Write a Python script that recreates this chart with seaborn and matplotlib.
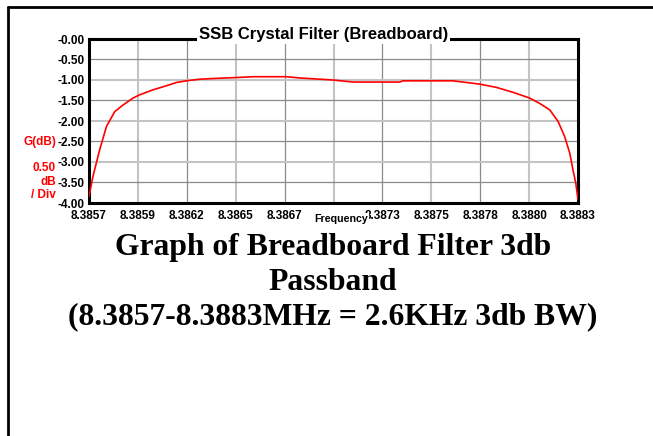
import matplotlib
matplotlib.use("Agg")
import matplotlib.pyplot as plt
from matplotlib.lines import Line2D
import numpy as np
import pandas as pd
import seaborn as sns

# frequency (MHz) and gain (dB)
freq_mhz = [
    8.385700, 8.385721, 8.385757, 8.385793, 8.385837, 8.385881, 8.385934,
    8.385970, 8.386040, 8.386112, 8.386165, 8.386218, 8.386289, 8.386377,
    8.386484, 8.386572, 8.386750, 8.386820, 8.386927, 8.386997, 8.387104,
    8.387352, 8.387370, 8.387635, 8.387777, 8.387866, 8.387954, 8.388043,
    8.388096, 8.388150, 8.388194, 8.388229, 8.388256, 8.388273, 8.388288,
    8.388300,
]
gain_db = [
    -3.84, -3.35, -2.70, -2.13, -1.77, -1.61, -1.44,
    -1.36, -1.24, -1.14, -1.06, -1.02, -0.98, -0.96,
    -0.94, -0.92, -0.92, -0.95, -0.98, -1.00, -1.05,
    -1.05, -1.02, -1.02, -1.10, -1.18, -1.30, -1.44,
    -1.57, -1.73, -2.01, -2.38, -2.78, -3.19, -3.51,
    -3.92,
]

x_tick_labels = ["8.3857", "8.3859", "8.3862", "8.3865", "8.3867", "",
                 "8.3873", "8.3875", "8.3878", "8.3880", "8.3883"]
y_tick_values = [0.0, -0.5, -1.0, -1.5, -2.0, -2.5, -3.0, -3.5, -4.0]
y_tick_labels = ["-0.00", "-0.50", "-1.00", "-1.50", "-2.00",
                 "-2.50", "-3.00", "-3.50", "-4.00"]
caption_lines = ["Graph of Breadboard Filter 3db", "Passband",
                 "(8.3857-8.3883MHz = 2.6KHz 3db BW)"]

X_MIN, X_MAX = 8.3857, 8.3883

sns.set_style("white")
plt.rcParams["font.family"] = ["Liberation Sans", "DejaVu Sans"]
plt.rcParams["text.color"] = "black"
plt.rcParams["xtick.color"] = "black"
plt.rcParams["ytick.color"] = "black"

df = pd.DataFrame({"freq": freq_mhz, "gain": gain_db})

fig = plt.figure(figsize=(6.53, 4.36), dpi=100)
ax = fig.add_axes([89 / 653, 1 - 203 / 436, 489 / 653, 164 / 436])

sns.lineplot(data=df, x="freq", y="gain", color="red", linewidth=1.2, ax=ax, zorder=4)

ax.set_xlim(X_MIN, X_MAX)
ax.set_ylim(-4.0, 0.0)

x_ticks = np.linspace(X_MIN, X_MAX, len(x_tick_labels))
ax.set_xticks(x_ticks)
ax.set_xticklabels(x_tick_labels, fontsize=8.5, fontweight="bold")
ax.set_yticks(y_tick_values)
ax.set_yticklabels(y_tick_labels, fontsize=8.5, fontweight="bold")
ax.tick_params(axis="x", which="major", length=0, pad=5)
ax.tick_params(axis="y", which="major", length=0, pad=3.5)
ax.set_xticks([x_ticks[5]], minor=True)
ax.tick_params(axis="x", which="minor", length=4, width=1.5, direction="out", color="black")
ax.set_xlabel("")
ax.set_ylabel("")

ax.grid(True, which="major")
for i, gl in enumerate(ax.get_xgridlines()):
    if i % 2:
        gl.set_color("#c4c4c4")
        gl.set_linewidth(1.5)
    else:
        gl.set_color("#8a8a8a")
        gl.set_linewidth(0.9)
for i, gl in enumerate(ax.get_ygridlines()):
    if i % 2:
        gl.set_color("#8a8a8a")
        gl.set_linewidth(0.9)
    else:
        gl.set_color("#c4c4c4")
        gl.set_linewidth(1.5)

for s in ax.spines.values():
    s.set_visible(True)
    s.set_color("black")
    s.set_linewidth(2.2)

# title sits on top of the upper frame line
ax.text(0.479, 1.0, "SSB Crystal Filter (Breadboard)", transform=ax.transAxes,
        ha="center", va="baseline", fontsize=12, fontweight="bold",
        bbox=dict(facecolor="white", edgecolor="none", pad=1.5), zorder=6, clip_on=False)

ax.text(0.515, -0.065, "Frequency", transform=ax.transAxes, ha="center", va="top",
        fontsize=7.7, fontweight="bold",
        bbox=dict(facecolor="white", edgecolor="none", pad=0.8), zorder=6, clip_on=False)

# red scale annotation on the left
for txt, ypx in [("G(dB)", 142), ("0.50", 168), ("dB", 182), ("/ Div", 195)]:
    fig.text(56 / 653, 1 - ypx / 436, txt, ha="right", va="center", color="red",
             fontsize=8.5, fontweight="bold")

for txt, base_px in zip(caption_lines, [255, 290, 324]):
    fig.text(333 / 653, 1 - base_px / 436, txt, ha="center", va="baseline",
             fontsize=22.8, fontweight="bold", color="black",
             family=["Liberation Serif", "DejaVu Serif"])

# outer frame (top and left edges)
fig.add_artist(Line2D([8 / 653, 1.0], [1 - 7 / 436, 1 - 7 / 436], color="black", linewidth=2))
fig.add_artist(Line2D([8 / 653, 8 / 653], [0.0, 1 - 7 / 436], color="black", linewidth=2))

fig.savefig("out.png", dpi=100, facecolor="white")
